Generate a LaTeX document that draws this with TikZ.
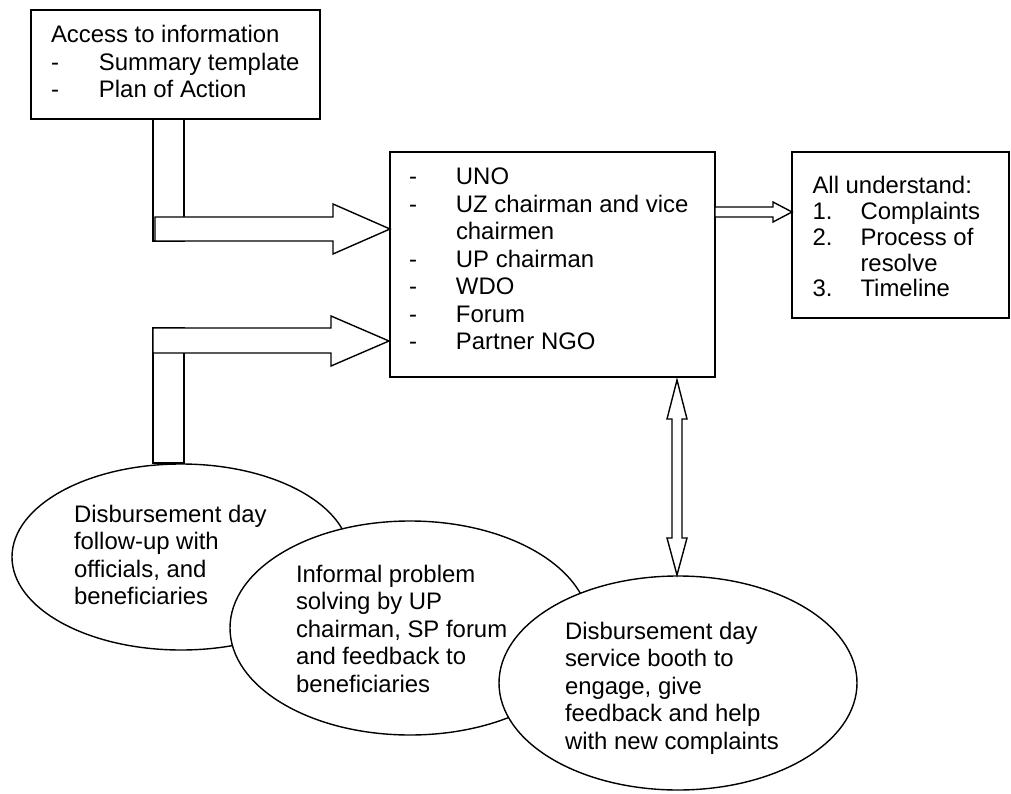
\documentclass[tikz,border=0pt]{standalone}
\usepackage{fontspec}
\setmainfont{Liberation Sans}
\usetikzlibrary{shapes.geometric}
\newcommand{\fsz}{\fontsize{23.9pt}{27.5pt}\selectfont}
\newcommand{\fszr}{\fontsize{23.9pt}{25.7pt}\selectfont}
\begin{document}
\begin{tikzpicture}[x=1pt,y=-1pt,
  box/.style={draw, fill=white, line width=1.4pt, rectangle, inner sep=0pt, outer sep=0pt, anchor=north west},
  oval/.style={draw, fill=white, ellipse, line width=1.4pt, inner sep=0pt, outer sep=0pt},
  lbl/.style={anchor=base west, inner sep=0pt, outer sep=0pt, font=\fsz},
  blk/.style={draw, fill=white, line width=1.4pt, line join=miter}]
\useasboundingbox (0,0) rectangle (1011,794);
% boxes
\node[box, minimum width=289pt, minimum height=109pt] (info) at (31,10) {};
\node[box, minimum width=325pt, minimum height=225pt] (mid) at (390,152) {};
\node[box, minimum width=217pt, minimum height=166pt] (res) at (792,152) {};
% ellipses
\node[oval, minimum width=338pt, minimum height=186pt] (e1) at (181,557) {};
\node[lbl] (te1) at (74,522) {\begin{tabular}[t]{@{}l@{}}Disbursement day\\ follow-up with\\ officials, and\\ beneficiaries\end{tabular}};
\node[oval, minimum width=360pt, minimum height=214pt] (e2) at (410,628) {};
\node[lbl] (te2) at (296,582) {\begin{tabular}[t]{@{}l@{}}Informal problem\\ solving by UP\\ chairman, SP forum\\ and feedback to\\ beneficiaries\end{tabular}};
\node[oval, minimum width=358pt, minimum height=214pt] (e3) at (678,683) {};
\node[lbl] (te3) at (565,639) {\begin{tabular}[t]{@{}l@{}}Disbursement day\\ service booth to\\ engage, give\\ feedback and help\\ with new complaints\end{tabular}};
% box texts
\node[lbl] (tinfo) at (51,43) {\begin{tabular}[t]{@{}l@{}}Access to information\\
  \makebox[48pt][l]{-}Summary template\\
  \makebox[48pt][l]{-}Plan of Action\end{tabular}};
\node[lbl] (tmid) at (409,185) {\begin{tabular}[t]{@{}l@{}}\makebox[47pt][l]{-}UNO\\
  \makebox[47pt][l]{-}UZ chairman and vice\\
  \hspace*{47pt}chairmen\\
  \makebox[47pt][l]{-}UP chairman\\
  \makebox[47pt][l]{-}WDO\\
  \makebox[47pt][l]{-}Forum\\
  \makebox[47pt][l]{-}Partner NGO\end{tabular}};
\node[lbl, font=\fszr] (tres) at (812.5,194) {\begin{tabular}[t]{@{}l@{}}All understand:\\
  \makebox[48pt][l]{1.}Complaints\\
  \makebox[48pt][l]{2.}Process of\\
  \hspace*{48pt}resolve\\
  \makebox[48pt][l]{3.}Timeline\end{tabular}};
% arrows from info and e1 to mid
\coordinate (a1tip) at (390,229);
\coordinate (a2tip) at (389,341);
\draw[blk] (153,119) rectangle (184,241);
\draw[blk] (155,217) -- (333,217) -- (333,204) -- (a1tip) -- (333,254) -- (333,241) -- (155,241) -- cycle;
\draw[blk] (153,328) rectangle (184,463);
\draw[blk] (153,328) -- (331,328) -- (331,316) -- (a2tip) -- (331,366) -- (331,353) -- (153,353) -- cycle;
% arrow mid -> res
\coordinate (a3tip) at (792,212);
\draw[blk] (715,207) -- (773,207) -- (773,202) -- (a3tip) -- (773,222) -- (773,217) -- (715,217) -- cycle;
% double arrow mid <-> e3
\coordinate (dtop) at (677,380);
\coordinate (dbot) at (677,575);
\draw[blk] (dtop) -- (687,419) -- (682,419) -- (682,538) -- (687,538) -- (dbot) -- (667,538) -- (672,538) -- (672,419) -- (667,419) -- cycle;
\end{tikzpicture}
\end{document}
